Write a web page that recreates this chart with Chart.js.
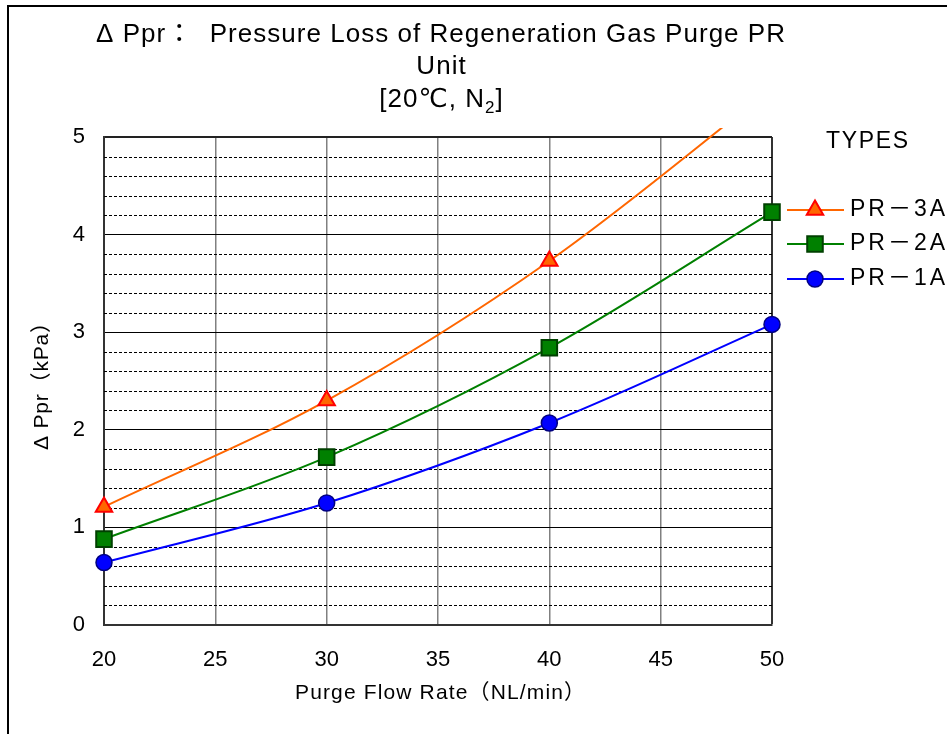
<!DOCTYPE html>
<html>
<head>
<meta charset="utf-8">
<script src="https://cdn.jsdelivr.net/npm/chart.js@4.4.1/dist/chart.umd.min.js"></script>
<style>
  body { margin: 0; background: #fff; }
  canvas { display: block; }
</style>
</head>
<body>
<canvas id="prChart" width="947" height="734"></canvas>
<script>
// flow rate (NL/min)
var flowRate = [20, 30, 40, 50];
// pressure loss (kPa) per unit type
var pr3a = [1.21, 2.30, 3.73, 5.50];
var pr2a = [0.88, 1.72, 2.84, 4.23];
var pr1a = [0.64, 1.25, 2.07, 3.08];
var seriesNames = ['PR－3A', 'PR－2A', 'PR－1A'];
var xTicks = [20, 25, 30, 35, 40, 45, 50];
var yTicks = [0, 1, 2, 3, 4, 5];

var FONT = '"Liberation Sans", "DejaVu Sans", "Noto Sans CJK JP", sans-serif';

function pts(vals) {
    return flowRate.map(function (x, i) { return {x: x, y: vals[i]}; });
}

function isMajor(v) {
    return Math.abs(v - Math.round(v)) < 1e-6;
}

// draw text so that it spans from x0 to x0 + width (spacing spread between letters)
function spacedText(ctx, text, x0, y, width) {
    ctx.letterSpacing = '0px';
    var w = ctx.measureText(text).width;
    var n = Array.from(text).length;
    var sp = n > 1 ? (width - w) / (n - 1) : 0;
    ctx.letterSpacing = sp + 'px';
    ctx.textAlign = 'left';
    ctx.fillText(text, x0, y);
    ctx.letterSpacing = '0px';
    return sp;
}

var clipBox = {left: 14, top: 9, right: 14, bottom: 14};

var datasets = [
    {
        label: seriesNames[0],
        data: pts(pr3a),
        borderColor: '#FF6600',
        backgroundColor: '#FF6600',
        borderWidth: 2,
        pointStyle: 'triangle',
        pointRadius: 9.5,
        pointBackgroundColor: '#FF6600',
        pointBorderColor: '#FF0000',
        pointBorderWidth: 2,
        cubicInterpolationMode: 'monotone',
        clip: clipBox
    },
    {
        label: seriesNames[1],
        data: pts(pr2a),
        borderColor: '#008000',
        backgroundColor: '#008000',
        borderWidth: 2,
        pointStyle: 'rect',
        pointRadius: 11,
        pointBackgroundColor: '#008000',
        pointBorderColor: '#004000',
        pointBorderWidth: 2,
        cubicInterpolationMode: 'monotone',
        clip: clipBox
    },
    {
        label: seriesNames[2],
        data: pts(pr1a),
        borderColor: '#0000FF',
        backgroundColor: '#0000FF',
        borderWidth: 2,
        pointStyle: 'circle',
        pointRadius: 8,
        pointBackgroundColor: '#0000FF',
        pointBorderColor: '#000080',
        pointBorderWidth: 1.5,
        cubicInterpolationMode: 'monotone',
        clip: clipBox
    }
];

// dotted minor lines every 0.2 kPa
var minorGrid = {
    id: 'minorGrid',
    beforeDatasetsDraw: function (chart) {
        var ctx = chart.ctx, area = chart.chartArea, ys = chart.scales.y;
        ctx.save();
        ctx.strokeStyle = '#000';
        ctx.lineWidth = 1;
        ctx.setLineDash([3, 2]);
        for (var i = 1; i < 25; i++) {
            var v = i / 5;
            if (isMajor(v)) continue;
            var y = Math.round(ys.getPixelForValue(v)) + 0.5;
            ctx.beginPath();
            ctx.moveTo(area.left, y);
            ctx.lineTo(area.right, y);
            ctx.stroke();
        }
        ctx.restore();
    }
};

// titles, legend, outer frame
var decor = {
    id: 'decor',
    afterDraw: function (chart) {
        var ctx = chart.ctx;
        ctx.save();
        ctx.fillStyle = '#000';
        ctx.textBaseline = 'middle';

        // outer frame
        ctx.strokeStyle = '#000';
        ctx.lineWidth = 2;
        ctx.beginPath();
        ctx.moveTo(8, 734);
        ctx.lineTo(8, 6);
        ctx.lineTo(947, 6);
        ctx.stroke();

        // chart title
        ctx.font = '26px ' + FONT;
        var sp = spacedText(ctx, 'Δ Ppr：  Pressure Loss of Regeneration Gas Purge PR', 96, 35, 689);
        ctx.letterSpacing = sp + 'px';
        var wu = ctx.measureText('Unit').width - sp;
        ctx.fillText('Unit', 441 - wu / 2, 67);
        var a = '[20℃, N', b = '2', c = ']';
        var wa = ctx.measureText(a).width, wc = ctx.measureText(c).width - sp;
        ctx.font = '17px ' + FONT;
        var wb = ctx.measureText(b).width;
        var x0 = 441 - (wa + wb + wc) / 2;
        ctx.font = '26px ' + FONT;
        ctx.fillText(a, x0, 100);
        ctx.font = '17px ' + FONT;
        ctx.fillText(b, x0 + wa, 108);
        ctx.font = '26px ' + FONT;
        ctx.fillText(c, x0 + wa + wb, 100);
        ctx.letterSpacing = '0px';

        // axis titles
        ctx.font = '21px ' + FONT;
        spacedText(ctx, 'Purge Flow Rate（NL/min）', 295, 693, 290);
        ctx.save();
        ctx.translate(42, 450);
        ctx.rotate(-Math.PI / 2);
        spacedText(ctx, 'Δ Ppr（kPa）', 0, 0, 138);
        ctx.restore();

        // legend
        ctx.font = '23px ' + FONT;
        spacedText(ctx, 'TYPES', 826, 142, 82);
        var rowY = [210, 244, 279];
        chart.data.datasets.forEach(function (ds, i) {
            var y = rowY[i];
            ctx.strokeStyle = ds.borderColor;
            ctx.lineWidth = 2;
            ctx.beginPath();
            ctx.moveTo(787, y);
            ctx.lineTo(844, y);
            ctx.stroke();
            ctx.fillStyle = ds.pointBackgroundColor;
            ctx.strokeStyle = ds.pointBorderColor;
            ctx.lineWidth = ds.pointBorderWidth;
            ctx.beginPath();
            var mx = 815, r = ds.pointRadius;
            if (ds.pointStyle === 'triangle') {
                ctx.moveTo(mx, y - r);
                ctx.lineTo(mx + r * 0.866, y + r / 2);
                ctx.lineTo(mx - r * 0.866, y + r / 2);
                ctx.closePath();
            } else if (ds.pointStyle === 'rect') {
                var s = r * Math.SQRT1_2;
                ctx.rect(mx - s, y - s, 2 * s, 2 * s);
            } else {
                ctx.arc(mx, y, r, 0, Math.PI * 2);
            }
            ctx.fill();
            ctx.stroke();
            ctx.fillStyle = '#000';
            spacedText(ctx, ds.label, 850, y, 95);
        });
        ctx.restore();
    }
};

var ctx = document.getElementById('prChart');
var prChart = new Chart(ctx, {
    type: 'line',
    data: { datasets: datasets },
    options: {
        responsive: false,
        animation: false,
        layout: { padding: { top: 137, right: 175, left: 0, bottom: 0 } },
        plugins: {
            legend: { display: false },
            title: { display: false },
            tooltip: { enabled: false }
        },
        scales: {
            x: {
                type: 'linear',
                min: 20,
                max: 50,
                afterBuildTicks: function (scale) {
                    scale.ticks = xTicks.map(function (v) { return {value: v}; });
                },
                ticks: { color: '#000', font: { size: 22, family: FONT }, padding: 22, maxRotation: 0 },
                grid: {
                    drawTicks: false,
                    color: function (c) {
                        if (c.index === 0) return 'transparent';
                        return c.index === xTicks.length - 1 ? '#333' : '#808080';
                    },
                    lineWidth: function (c) { return c.index === xTicks.length - 1 ? 2 : 1.5; }
                },
                border: { color: '#333', width: 2 },
                afterFit: function (s) { s.height = 109; }
            },
            y: {
                min: 0,
                max: 5,
                ticks: {
                    stepSize: 0.2,
                    autoSkip: false,
                    color: '#000',
                    font: { size: 22, family: FONT },
                    padding: 19,
                    callback: function (v) {
                        return isMajor(v) && yTicks.indexOf(Math.round(v)) >= 0 ? String(Math.round(v)) : '';
                    }
                },
                grid: {
                    drawTicks: false,
                    color: function (c) {
                        var v = c.tick ? c.tick.value : 0;
                        if (!isMajor(v)) return 'transparent';
                        return Math.round(v) === 5 ? '#222' : '#000';
                    },
                    lineWidth: function (c) {
                        var v = c.tick ? c.tick.value : 0;
                        return isMajor(v) && Math.round(v) === 5 ? 2 : 1;
                    }
                },
                border: { color: '#333', width: 2 },
                afterFit: function (s) { s.width = 104; }
            }
        }
    },
    plugins: [minorGrid, decor]
});
</script>
</body>
</html>
